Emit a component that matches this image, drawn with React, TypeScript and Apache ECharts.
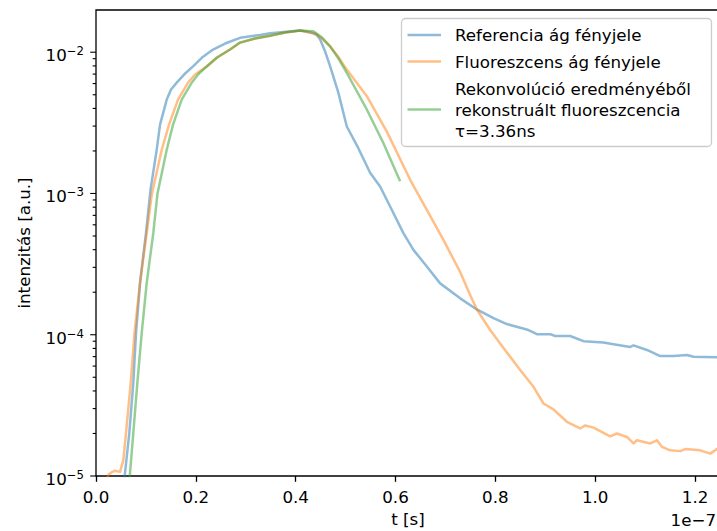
import React, { useEffect, useRef } from 'react';
import * as echarts from 'echarts';

// time in ns (axis labels shown in units of 1e-7 s)
const timeRef = [5.45, 5.81, 6.67, 7.47, 8.02, 8.82, 10.02, 10.92, 12.16, 12.83, 14.17, 15.03, 16.17, 17.64, 19.44, 21.24, 23.45, 25.85, 28.86, 32.87, 34.87, 40.88, 42.9, 44.2, 44.9, 45.9, 46.89, 48.56, 50.24, 52.5, 54.91, 56.91, 58.92, 61.58, 63.59, 66.27, 68.94, 72.95, 76.29, 79.62, 82.3, 86.63, 88.32, 90.98, 91.98, 94.99, 97.65, 101.66, 103.35, 107.01, 107.68, 110.36, 113.03, 115.69, 118.38, 119.7, 124.39, 126];
const intensityRef = [7.9e-6, 1.05e-5, 2.01e-5, 4.54e-5, 1.03e-4, 2.33e-4, 5.26e-4, 1.06e-3, 2.04e-3, 3.07e-3, 4.62e-3, 5.44e-3, 6.09e-3, 6.95e-3, 7.93e-3, 9.17e-3, 1.045e-2, 1.152e-2, 1.265e-2, 1.324e-2, 1.36e-2, 1.426e-2, 1.38e-2, 1.335e-2, 1.23e-2, 1.012e-2, 7.96e-3, 5.15e-3, 2.98e-3, 2.11e-3, 1.4e-3, 1.12e-3, 8.09e-4, 5.24e-4, 3.99e-4, 3.04e-4, 2.31e-4, 1.81e-4, 1.51e-4, 1.31e-4, 1.19e-4, 1.08e-4, 1.01e-4, 1.01e-4, 9.8e-5, 9.8e-5, 9.0e-5, 8.8e-5, 8.6e-5, 8.2e-5, 8.4e-5, 7.8e-5, 7.06e-5, 7.06e-5, 7.18e-5, 6.98e-5, 6.92e-5, 6.9e-5];

const timeFluo = [1.8, 2.46, 3.3, 3.81, 4.81, 5.47, 6.01, 6.95, 7.72, 8.82, 10.16, 11.16, 13.17, 14.63, 16.43, 18.44, 19.84, 22.18, 24.25, 26.85, 28.86, 31.86, 34.87, 37.88, 40.88, 43.55, 45.29, 46.89, 48.5, 50.24, 54.25, 58.26, 62.93, 66.27, 69.6, 72.95, 74.95, 76.29, 78.96, 81.96, 84.97, 87.64, 89.64, 91.64, 94.33, 96.99, 98.0, 99.66, 103.0, 104.35, 106.35, 107.68, 108.36, 111.02, 112.36, 113.37, 115.03, 117.03, 118.04, 121.04, 123.05, 124.45, 126];
const intensityFluo = [8.5e-6, 1.02e-5, 1.07e-5, 1.09e-5, 1.07e-5, 1.29e-5, 2.01e-5, 4.54e-5, 1.03e-4, 2.33e-4, 5.26e-4, 9.8e-4, 2.04e-3, 3.07e-3, 4.62e-3, 6.09e-3, 6.95e-3, 7.93e-3, 9.17e-3, 1.045e-2, 1.17e-2, 1.25e-2, 1.31e-2, 1.38e-2, 1.426e-2, 1.37e-2, 1.25e-2, 1.1e-2, 9.32e-3, 7.53e-3, 4.88e-3, 2.74e-3, 1.25e-3, 7.66e-4, 4.69e-4, 2.78e-4, 1.91e-4, 1.51e-4, 1.08e-4, 7.78e-5, 5.62e-5, 4.28e-5, 3.26e-5, 2.96e-5, 2.42e-5, 2.17e-5, 2.28e-5, 2.2e-5, 1.91e-5, 2.0e-5, 1.89e-5, 1.7e-5, 1.79e-5, 1.7e-5, 1.79e-5, 1.61e-5, 1.52e-5, 1.5e-5, 1.55e-5, 1.52e-5, 1.44e-5, 1.56e-5, 1.5e-5];

const timeFit = [6.53, 6.81, 7.47, 8.28, 9.16, 10.16, 11.48, 12.32, 14.17, 15.43, 17.17, 19.18, 20.44, 22.18, 24.25, 26.85, 28.86, 31.86, 34.87, 37.88, 40.88, 43.55, 45.29, 46.89, 48.5, 50.24, 54.25, 57.58, 60.92];
const intensityFit = [7.9e-6, 1.045e-5, 2.01e-5, 4.54e-5, 1.03e-4, 2.33e-4, 5.26e-4, 1.0e-3, 2.04e-3, 3.07e-3, 4.62e-3, 6.09e-3, 6.95e-3, 7.93e-3, 9.17e-3, 1.045e-2, 1.17e-2, 1.25e-2, 1.31e-2, 1.38e-2, 1.426e-2, 1.41e-2, 1.27e-2, 1.1e-2, 9.1e-3, 7.15e-3, 3.93e-3, 2.27e-3, 1.22e-3];

const seriesNames = [
  'Referencia ág fényjele',
  'Fluoreszcens ág fényjele',
  'Rekonvolúció eredményéből\nrekonstruált fluoreszcencia\nτ=3.36ns',
];
const seriesColors = ['#1f77b4', '#ff7f0e', '#2ca02c'];

const yMajorTicks = [1e-5, 1e-4, 1e-3, 1e-2];
const yMinorTicks = [
  2e-5, 3e-5, 4e-5, 5e-5, 6e-5, 7e-5, 8e-5, 9e-5,
  2e-4, 3e-4, 4e-4, 5e-4, 6e-4, 7e-4, 8e-4, 9e-4,
  2e-3, 3e-3, 4e-3, 5e-3, 6e-3, 7e-3, 8e-3, 9e-3,
];

const X_MIN = 0;
const X_MAX = 125;
const X_INTERVAL = 20;
const Y_MIN = 1e-5;
const Y_MAX = 0.0199;

const xLabel = 't [s]';
const yLabel = 'intenzitás [a.u.]';
const offsetLabel = '1e−7';

const FONT = 'DejaVu Sans';
const FS = 16.7;
const TXT = '#000';

export default function App() {
  const ref = useRef<HTMLDivElement>(null);
  useEffect(() => {
    document.body.style.margin = '0';
    if (!ref.current) return;
    const chart = echarts.init(ref.current, null, { renderer: 'svg' });

    const mk = (i: number, t: number[], v: number[]) => ({
      type: 'line',
      name: seriesNames[i],
      data: t.map((x, k) => [x, v[k]]),
      showSymbol: false,
      symbol: 'none',
      clip: true,
      z: 2 + i,
      lineStyle: { color: seriesColors[i], width: 2.5, opacity: 0.5, join: 'round' },
      itemStyle: { color: seriesColors[i] },
    });

    const tickData = [
      ...yMajorTicks.map((v) => [0, v, 5.8]),
      ...yMinorTicks.map((v) => [0, v, 3.3]),
    ];

    const legendX = 401.5;
    const legendY = 18.5;
    const legendW = 310;
    const legendH = 128;
    const handleX1 = 407.5;
    const handleX2 = 441;
    const textX = 455;
    const rowsY = [35, 61.5, 109.5];

    const graphics: any[] = [
      {
        type: 'rect',
        z: 100,
        shape: { x: legendX, y: legendY, width: legendW, height: legendH, r: 4 },
        style: { fill: 'rgba(255,255,255,0.8)', stroke: '#cccccc', lineWidth: 1.3 },
      },
    ];
    seriesNames.forEach((name, i) => {
      graphics.push({
        type: 'line',
        z: 101,
        shape: { x1: handleX1, y1: rowsY[i], x2: handleX2, y2: rowsY[i] },
        style: { stroke: seriesColors[i], lineWidth: 2.5, opacity: 0.5 },
      });
      graphics.push({
        type: 'text',
        z: 101,
        x: textX,
        y: rowsY[i],
        style: {
          text: name,
          fontFamily: FONT,
          fontSize: FS,
          fill: TXT,
          align: 'left',
          verticalAlign: 'middle',
          lineHeight: 21,
        },
      });
    });
    graphics.push({
      type: 'text',
      z: 101,
      x: 716,
      y: 520,
      style: {
        text: offsetLabel,
        fontFamily: FONT,
        fontSize: FS,
        fill: TXT,
        align: 'right',
        verticalAlign: 'middle',
      },
    });

    const option: any = {
      animation: false,
      backgroundColor: '#fff',
      grid: {
        left: 96,
        top: 10,
        right: -3,
        bottom: 55,
        show: true,
        borderColor: '#000',
        borderWidth: 1.3,
        backgroundColor: 'transparent',
        outerBoundsMode: 'none',
        containLabel: false,
      },
      xAxis: {
        type: 'value',
        min: X_MIN,
        max: X_MAX,
        interval: X_INTERVAL,
        axisLine: { show: false },
        axisTick: { show: true, length: 5.8, lineStyle: { color: '#000', width: 1.3 } },
        splitLine: { show: false },
        axisLabel: {
          margin: 12,
          fontFamily: FONT,
          fontSize: FS,
          color: TXT,
          showMaxLabel: false,
          formatter: (v: number) => (Math.abs(v % X_INTERVAL) < 1e-9 ? (v / 100).toFixed(1) : ''),
        },
        name: xLabel,
        nameLocation: 'middle',
        nameGap: 34,
        nameTextStyle: { fontFamily: FONT, fontSize: FS, color: TXT },
      },
      yAxis: {
        type: 'log',
        logBase: 10,
        min: Y_MIN,
        max: Y_MAX,
        splitNumber: 3,
        axisLine: { show: false },
        axisTick: { show: false },
        splitLine: { show: false },
        axisLabel: {
          margin: 12,
          padding: [6, 0, 0, 0],
          formatter: (v: number) => {
            const e = Math.log10(v);
            const r = Math.round(e);
            if (Math.abs(e - r) > 1e-6) return '';
            return `{b|10}{s|${r < 0 ? '−' : ''}${Math.abs(r)}}`;
          },
          rich: {
            b: { fontFamily: FONT, fontSize: FS, color: TXT, lineHeight: 20 },
            s: { fontFamily: FONT, fontSize: 11.7, color: TXT, lineHeight: 16, verticalAlign: 'top' },
          },
        },
        name: yLabel,
        nameLocation: 'middle',
        nameGap: 64,
        nameRotate: 90,
        nameTextStyle: { fontFamily: FONT, fontSize: FS, color: TXT },
      },
      series: [
        mk(0, timeRef, intensityRef),
        mk(1, timeFluo, intensityFluo),
        mk(2, timeFit, intensityFit),
        {
          type: 'custom',
          coordinateSystem: 'cartesian2d',
          silent: true,
          clip: false,
          z: 20,
          encode: { x: 0, y: 1 },
          data: tickData,
          renderItem: (params: any, api: any) => {
            const v = api.value(1);
            const len = api.value(2);
            const p = api.coord([X_MIN, v]);
            return {
              type: 'line',
              shape: { x1: p[0] - len, y1: p[1], x2: p[0], y2: p[1] },
              style: { stroke: '#000', lineWidth: 1.1 },
            };
          },
        },
      ],
      graphic: graphics,
    };
    chart.setOption(option);
    return () => chart.dispose();
  }, []);
  return (
    <div
      ref={ref}
      style={{ position: 'absolute', left: 0, top: 0, width: 717, height: 531 }}
    />
  );
}
